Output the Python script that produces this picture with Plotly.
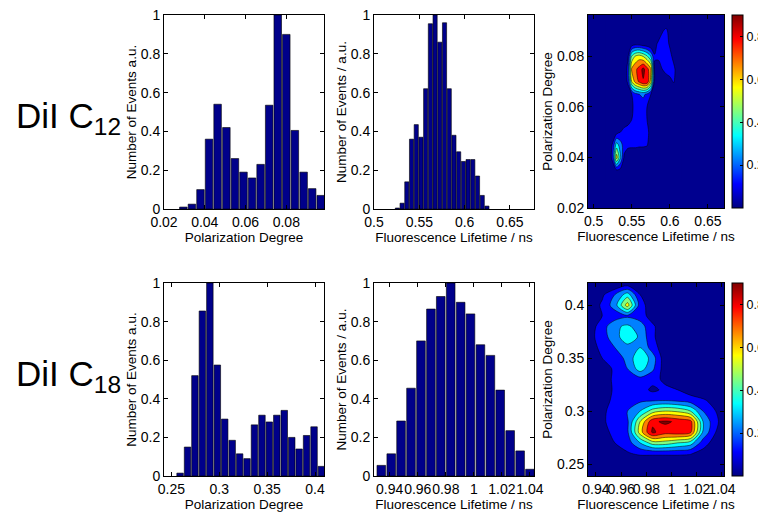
import plotly.graph_objects as go

W, H = 766, 513
OFF = 8  # the page body adds an 8 px margin; figure coordinates = page coordinates - OFF
FW, FH = W - OFF, H - OFF  # figure size so that the page does not overflow the window

# ---------------- data ----------------
# DiI C12 : polarization degree histogram
pd12_centers = [0.0295, 0.0337, 0.0379, 0.0421, 0.0463, 0.0506, 0.0548, 0.0590, 0.0632,
                0.0674, 0.0716, 0.0758, 0.0800, 0.0842, 0.0885, 0.0927, 0.0969]
pd12_counts = [0.01, 0.025, 0.10, 0.36, 0.54, 0.42, 0.26, 0.19, 0.16,
               0.23, 0.535, 1.0, 0.90, 0.405, 0.19, 0.105, 0.07]

# DiI C12 : fluorescence lifetime histogram
lt12_centers = [0.5258, 0.5310, 0.5362, 0.5414, 0.5466, 0.5518, 0.5570, 0.5622, 0.5674, 0.5726,
                0.5778, 0.5830, 0.5882, 0.5934, 0.5986, 0.6038, 0.6090, 0.6142, 0.6194, 0.6246]
lt12_counts = [0.005, 0.03, 0.14, 0.36, 0.435, 0.37, 0.62, 0.955, 1.0, 0.86,
               0.96, 0.62, 0.38, 0.295, 0.245, 0.255, 0.255, 0.17, 0.07, 0.015]

# DiI C18 : polarization degree histogram
pd18_centers = [0.2591, 0.2669, 0.2746, 0.2824, 0.2902, 0.2980, 0.3057, 0.3135, 0.3213, 0.3290,
                0.3368, 0.3446, 0.3523, 0.3601, 0.3679, 0.3757, 0.3834, 0.3912, 0.3990, 0.4067]
pd18_counts = [0.015, 0.15, 0.52, 0.855, 1.0, 0.575, 0.295, 0.185, 0.115, 0.09,
               0.265, 0.315, 0.28, 0.315, 0.34, 0.20, 0.14, 0.21, 0.255, 0.05]

# DiI C18 : fluorescence lifetime histogram
lt18_centers = [0.9340, 0.9411, 0.9481, 0.9552, 0.9623, 0.9694, 0.9764, 0.9835,
                0.9906, 0.9976, 1.0047, 1.0118, 1.0188, 1.0259, 1.0330, 1.0400]
lt18_counts = [0.055, 0.115, 0.285, 0.455, 0.70, 0.865, 0.93, 1.0,
               0.90, 0.84, 0.68, 0.625, 0.445, 0.235, 0.13, 0.035]

# DiI C12 : 2D map (rows = polarization degree, columns = lifetime)
map12_lifetime = [0.515, 0.52, 0.525, 0.53, 0.535, 0.54, 0.545, 0.55, 0.555, 0.56, 0.565,
                  0.57, 0.575, 0.58, 0.585, 0.59, 0.595, 0.60, 0.605, 0.61, 0.615]
map12_polar = [0.030, 0.035, 0.040, 0.045, 0.050, 0.055, 0.060,
               0.065, 0.070, 0.075, 0.080, 0.085, 0.090, 0.095]
map12_z = [
    [0, 0, 0, 0, 0, 0, 0, 0, 0, 0, 0, 0, 0, 0, 0, 0, 0, 0, 0, 0, 0],
    [0, 0, 0, 0.09, 0.07, 0, 0, 0, 0, 0, 0, 0, 0, 0, 0, 0, 0, 0, 0, 0, 0],
    [0, 0, 0.15, 0.55, 0.32, 0.08, 0.02, 0, 0, 0, 0, 0, 0, 0, 0, 0, 0, 0, 0, 0, 0],
    [0, 0, 0.12, 0.35, 0.25, 0.15, 0.13, 0.13, 0.13, 0.12, 0.12, 0.11, 0.04, 0, 0, 0, 0, 0, 0, 0, 0],
    [0, 0, 0, 0.06, 0.10, 0.14, 0.15, 0.15, 0.15, 0.15, 0.14, 0.13, 0.06, 0, 0, 0, 0, 0, 0, 0, 0],
    [0, 0, 0, 0, 0, 0.03, 0.06, 0.10, 0.15, 0.16, 0.15, 0.10, 0.02, 0, 0, 0, 0, 0, 0, 0, 0],
    [0, 0, 0, 0, 0, 0, 0.02, 0.08, 0.14, 0.16, 0.15, 0.10, 0.03, 0, 0, 0, 0, 0, 0, 0, 0],
    [0, 0, 0, 0, 0, 0, 0.03, 0.10, 0.17, 0.20, 0.22, 0.18, 0.10, 0.02, 0, 0, 0, 0, 0, 0, 0],
    [0, 0, 0, 0, 0, 0.02, 0.12, 0.50, 0.64, 0.72, 0.79, 0.78, 0.55, 0.08, 0.04, 0, 0.02, 0.06, 0.11, 0.04, 0],
    [0, 0, 0, 0, 0, 0, 0.15, 0.62, 0.68, 0.74, 0.83, 0.74, 0.62, 0.08, 0.03, 0.10, 0.15, 0.16, 0.13, 0.04, 0],
    [0, 0, 0, 0, 0, 0, 0.08, 0.42, 0.52, 0.55, 0.50, 0.42, 0.30, 0.11, 0.13, 0.15, 0.16, 0.14, 0.06, 0, 0],
    [0, 0, 0, 0, 0, 0, 0, 0.04, 0.06, 0.05, 0.03, 0.02, 0, 0.05, 0.13, 0.16, 0.15, 0.08, 0, 0, 0],
    [0, 0, 0, 0, 0, 0, 0, 0, 0, 0, 0, 0, 0, 0, 0, 0.09, 0.13, 0.05, 0, 0, 0],
    [0, 0, 0, 0, 0, 0, 0, 0, 0, 0, 0, 0, 0, 0, 0, 0, 0, 0, 0, 0, 0],
]

# DiI C18 : 2D map
map18_lifetime = [0.935, 0.945, 0.955, 0.965, 0.975, 0.985, 0.995, 1.005, 1.015, 1.025, 1.035, 1.045]
map18_polar = [0.24, 0.25, 0.26, 0.27, 0.28, 0.29, 0.30, 0.31, 0.32, 0.33,
               0.34, 0.35, 0.36, 0.37, 0.38, 0.39, 0.40, 0.41, 0.42]
map18_z = [
    [0, 0, 0, 0, 0, 0, 0, 0, 0, 0, 0, 0],
    [0, 0, 0, 0, 0, 0, 0, 0, 0, 0, 0, 0],
    [0, 0, 0.05, 0.09, 0.12, 0.12, 0.12, 0.12, 0.11, 0.06, 0, 0],
    [0, 0.03, 0.10, 0.15, 0.30, 0.45, 0.45, 0.40, 0.35, 0.15, 0.05, 0],
    [0, 0.06, 0.13, 0.18, 0.55, 0.82, 0.74, 0.76, 0.72, 0.28, 0.10, 0.02],
    [0, 0.08, 0.15, 0.18, 0.50, 0.78, 0.82, 0.78, 0.74, 0.30, 0.12, 0.03],
    [0, 0.08, 0.14, 0.20, 0.30, 0.45, 0.50, 0.48, 0.40, 0.20, 0.10, 0.02],
    [0, 0.05, 0.13, 0.16, 0.18, 0.19, 0.20, 0.18, 0.15, 0.12, 0.05, 0],
    [0, 0.03, 0.12, 0.15, 0.14, 0.08, 0.12, 0.10, 0.05, 0, 0, 0],
    [0, 0.05, 0.12, 0.15, 0.16, 0.13, 0.08, 0, 0, 0, 0, 0],
    [0, 0.04, 0.12, 0.20, 0.35, 0.22, 0.04, 0, 0, 0, 0, 0],
    [0.02, 0.10, 0.16, 0.22, 0.40, 0.25, 0.03, 0, 0, 0, 0, 0],
    [0.05, 0.13, 0.20, 0.26, 0.30, 0.15, 0.03, 0, 0, 0, 0, 0],
    [0.06, 0.16, 0.25, 0.38, 0.28, 0.12, 0.02, 0, 0, 0, 0, 0],
    [0.05, 0.15, 0.28, 0.32, 0.25, 0.12, 0.02, 0, 0, 0, 0, 0],
    [0.02, 0.10, 0.14, 0.18, 0.15, 0.05, 0, 0, 0, 0, 0, 0],
    [0.02, 0.12, 0.25, 0.55, 0.15, 0.03, 0, 0, 0, 0, 0, 0],
    [0, 0.08, 0.20, 0.35, 0.10, 0, 0, 0, 0, 0, 0, 0],
    [0, 0, 0, 0.05, 0, 0, 0, 0, 0, 0, 0, 0],
]

row_labels = ["DiI C<sub>12</sub>", "DiI C<sub>18</sub>"]

# ---------------- styling ----------------
FONT = "Liberation Sans, Arial, sans-serif"
BAR_COLOR = "#00008A"
BG_MAP = "#00008F"
JET = [[0.0, "#000080"], [0.125, "#0000FF"], [0.375, "#00FFFF"],
       [0.625, "#FFFF00"], [0.875, "#FF0000"], [1.0, "#800000"]]
JET_FILL = [[0.0, BG_MAP], [0.06, BG_MAP], [0.125, "#0000FF"], [0.375, "#00FFFF"],
            [0.625, "#FFFF00"], [0.875, "#FF0000"], [1.0, "#800000"]]
TICK_SIZE = 14


def px_x(a, b):
    return [(a - OFF) / FW, (b - OFF) / FW]


def px_y(top, bottom):
    return [1 - (bottom - OFF) / FH, 1 - (top - OFF) / FH]


def fx(p):
    return (p - OFF) / FW


def fy(p):
    return 1 - (p - OFF) / FH


fig = go.Figure()

hists = [
    (pd12_centers, pd12_counts, "x", "y"),
    (lt12_centers, lt12_counts, "x2", "y2"),
    (pd18_centers, pd18_counts, "x4", "y4"),
    (lt18_centers, lt18_counts, "x5", "y5"),
]
for cx, cy, xa, ya in hists:
    fig.add_trace(go.Bar(x=cx, y=cy, xaxis=xa, yaxis=ya,
                         marker=dict(color=BAR_COLOR, line=dict(color="black", width=0.6)),
                         showlegend=False, hoverinfo="x+y"))

maps = [
    (map12_lifetime, map12_polar, map12_z, "x3", "y3", fy(111.5)),
    (map18_lifetime, map18_polar, map18_z, "x6", "y6", fy(379.5)),
]
for mx, my, mz, xa, ya, cby in maps:
    # continuous colour bar carrier (same data, transparent)
    fig.add_trace(go.Heatmap(x=mx, y=my, z=mz, xaxis=xa, yaxis=ya, zmin=0, zmax=0.9,
                             colorscale=JET, opacity=0, hoverinfo="skip", showscale=True,
                             colorbar=dict(x=fx(732), xanchor="left", y=cby, yanchor="middle",
                                           len=193 / FH, lenmode="fraction", thickness=11,
                                           thicknessmode="pixels", xpad=0, ypad=0,
                                           outlinewidth=1, outlinecolor="black",
                                           tickvals=[0.2, 0.4, 0.6, 0.8], ticks="inside",
                                           ticklen=3, tickcolor="black",
                                           tickfont=dict(size=12.5, family=FONT, color="black"))))
    fig.add_trace(go.Contour(x=mx, y=my, z=mz, xaxis=xa, yaxis=ya, zmin=0, zmax=0.9,
                             colorscale=JET_FILL, showscale=False,
                             contours=dict(start=0.1, end=0.8, size=0.1, coloring="fill"),
                             line=dict(color="black", width=0.5, smoothing=0.8)))

axis_common = dict(showgrid=False, zeroline=False, showline=True, linecolor="black",
                   linewidth=1, mirror="ticks", ticks="inside", ticklen=4, tickcolor="black",
                   tickangle=0, automargin=False,
                   tickfont=dict(size=TICK_SIZE, family=FONT, color="black"),
                   title_font=dict(size=13.5, family=FONT, color="black"))

TOP = px_y(15, 209)
BOT = px_y(283, 476)
C1 = px_x(164, 324)
C2 = px_x(374, 534)
C3 = px_x(588, 724)
XS = 3
YS = 1

layout_axes = dict(
    xaxis=dict(domain=C1, anchor="y", range=[0.02, 0.0985], dtick=0.02, tick0=0.02,
               title=dict(text="Polarization Degree", standoff=XS), **axis_common),
    yaxis=dict(domain=TOP, anchor="x", range=[0, 1], dtick=0.2,
               title=dict(text="Number of Events a.u.", standoff=YS), **axis_common),
    xaxis2=dict(domain=C2, anchor="y2", range=[0.5, 0.6765], dtick=0.05, tick0=0.5,
                title=dict(text="Fluorescence Lifetime / ns", standoff=XS), **axis_common),
    yaxis2=dict(domain=TOP, anchor="x2", range=[0, 1], dtick=0.2,
                title=dict(text="Number of Events / a.u.", standoff=YS), **axis_common),
    xaxis3=dict(domain=C3, anchor="y3", range=[0.4926, 0.671], dtick=0.05, tick0=0.5,
                title=dict(text="Fluorescence Lifetime / ns", standoff=XS), **axis_common),
    yaxis3=dict(domain=px_y(15, 208), anchor="x3", range=[0.02, 0.0964], dtick=0.02, tick0=0.02,
                title=dict(text="Polarization Degree", standoff=YS), **axis_common),
    xaxis4=dict(domain=C1, anchor="y4", range=[0.2423, 0.4094], dtick=0.05, tick0=0.25,
                title=dict(text="Polarization Degree", standoff=XS), **axis_common),
    yaxis4=dict(domain=BOT, anchor="x4", range=[0, 1], dtick=0.2,
                title=dict(text="Number of Events a.u.", standoff=YS), **axis_common),
    xaxis5=dict(domain=C2, anchor="y5", range=[0.9288, 1.0429], dtick=0.02, tick0=0.94,
                title=dict(text="Fluorescence Lifetime / ns", standoff=XS), **axis_common),
    yaxis5=dict(domain=BOT, anchor="x5", range=[0, 1], dtick=0.2,
                title=dict(text="Number of Events / a.u.", standoff=YS), **axis_common),
    xaxis6=dict(domain=C3, anchor="y6", range=[0.9337, 1.0416], dtick=0.02, tick0=0.94,
                title=dict(text="Fluorescence Lifetime / ns", standoff=XS), **axis_common),
    yaxis6=dict(domain=BOT, anchor="x6", range=[0.2387, 0.421], dtick=0.05, tick0=0.25,
                title=dict(text="Polarization Degree", standoff=YS), **axis_common),
)

shapes = [dict(type="rect", xref=f"{a} domain", yref=f"{b} domain", x0=0, x1=1, y0=0, y1=1,
               fillcolor=BG_MAP, line=dict(width=0), layer="below")
          for a, b in (("x3", "y3"), ("x6", "y6"))]

annotations = [
    dict(text=row_labels[0], x=fx(123), y=fy(118), xref="paper", yref="paper",
         xanchor="right", yanchor="middle", showarrow=False,
         font=dict(size=35, family=FONT, color="black")),
    dict(text=row_labels[1], x=fx(123), y=fy(376), xref="paper", yref="paper",
         xanchor="right", yanchor="middle", showarrow=False,
         font=dict(size=35, family=FONT, color="black")),
]

fig.update_layout(width=FW, height=FH, margin=dict(l=0, r=0, t=0, b=0, autoexpand=False),
                  paper_bgcolor="white", plot_bgcolor="white", bargap=0.12,
                  showlegend=False, shapes=shapes, annotations=annotations,
                  font=dict(family=FONT, size=13, color="black"), **layout_axes)

fig.write_html("out.html")
